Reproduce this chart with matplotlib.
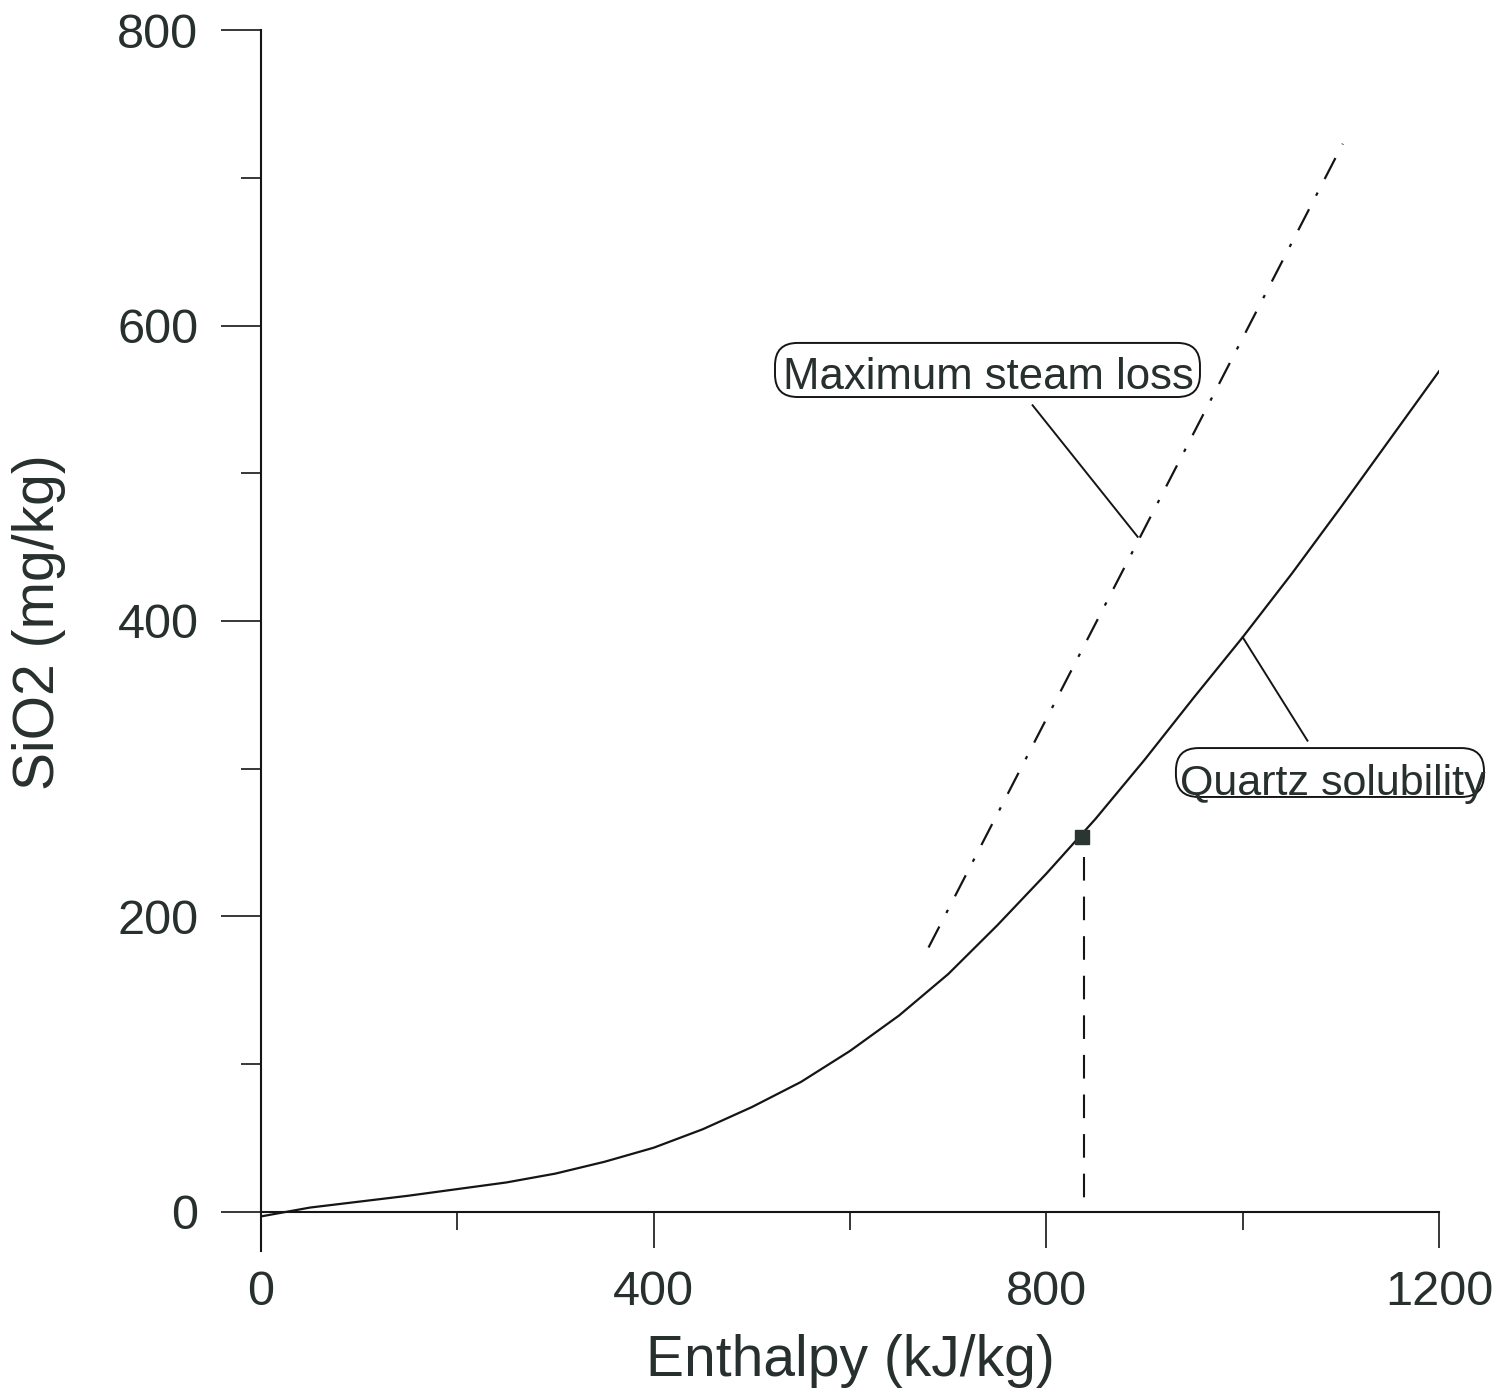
import matplotlib
matplotlib.use("Agg")
import matplotlib.pyplot as plt
from matplotlib.patches import FancyBboxPatch
from matplotlib.ticker import MultipleLocator

plt.rcParams["font.family"] = ["Liberation Sans", "DejaVu Sans"]
plt.rcParams["lines.scale_dashes"] = False

TEXT = "#27302e"
INK = "#151515"

# quartz solubility curve
quartz_h = [0, 50, 100, 150, 200, 250, 300, 350, 400, 450, 500, 550, 600,
            650, 700, 750, 800, 850, 900, 950, 1000, 1050, 1100, 1150, 1200]
quartz_si = [-3, 3, 7, 11, 15.5, 20, 26, 34, 43.5, 56, 71, 88, 109,
             133, 161, 194, 229, 266, 306, 348, 389, 432, 477, 523, 569]

# maximum steam loss line
steam_h = [680, 1102]
steam_si = [179, 723]

# reservoir point and drop line
point_h = 836
point_si = 254
drop_h = [838, 838]
drop_si = [240, 0]

x_major = [0, 400, 800, 1200]
y_major = [0, 200, 400, 600, 800]

fig = plt.figure(figsize=(15.05, 13.91), dpi=100)
ax = fig.add_axes([0.17342, 0.10065, 0.78273, 0.87778])

ax.plot(quartz_h, quartz_si, color=INK, lw=1.6, solid_joinstyle="round")
steam, = ax.plot(steam_h, steam_si, color=INK, lw=1.6)
steam.set_dashes([17, 11, 2.5, 11])
drop, = ax.plot(drop_h, drop_si, color=INK, lw=1.5)
drop.set_dashes([17, 11.5])
ax.plot([point_h], [point_si], marker="s", ms=10, color="#2b3532", ls="none")

# leader lines to the labels
ax.plot([786, 893], [546, 457], color=INK, lw=1.4)
ax.plot([1066, 1000], [319, 389], color=INK, lw=1.4)

# rounded label boxes (aspect corrects data units to square pixels)
asp = 0.6644
for (x0, y0, w, h) in [(523.6, 551.6, 432.9, 36.6), (932.0, 280.9, 313.8, 33.1)]:
    ax.add_patch(FancyBboxPatch((x0, y0), w, h,
                                boxstyle="round,pad=0,rounding_size=23",
                                mutation_aspect=asp, fc="none", ec=INK, lw=1.4,
                                clip_on=False))
ax.text(531.7, 557, "Maximum steam loss", fontsize=31.5, color=TEXT,
        ha="left", va="baseline")
ax.text(936, 282.2, "Quartz solubility", fontsize=31, color=TEXT,
        ha="left", va="baseline")

ax.set_xlim(0, 1200)
ax.set_ylim(-26.4, 800)
ax.spines["top"].set_visible(False)
ax.spines["right"].set_visible(False)
ax.spines["bottom"].set_position(("data", 0))
for s in ("left", "bottom"):
    ax.spines[s].set_linewidth(1.5)
    ax.spines[s].set_color(INK)

ax.set_xticks(x_major)
ax.set_yticks(y_major)
ax.xaxis.set_minor_locator(MultipleLocator(200))
ax.yaxis.set_minor_locator(MultipleLocator(100))
ax.tick_params(axis="x", which="major", direction="out", length=26, width=1.2,
               pad=16, labelsize=35, labelcolor=TEXT, color=INK)
ax.tick_params(axis="x", which="minor", direction="out", length=13, width=1.2,
               color=INK)
ax.tick_params(axis="y", which="major", direction="out", length=29, width=1.2,
               pad=16, labelsize=35, labelcolor=TEXT, color=INK)
ax.tick_params(axis="y", which="minor", direction="out", length=14.5, width=1.2,
               color=INK)

ax.set_xlabel("Enthalpy (kJ/kg)", fontsize=41, color=TEXT)
ax.xaxis.set_label_coords(0.5, -0.068)
ax.set_ylabel("SiO2 (mg/kg)", fontsize=41, color=TEXT)
ax.yaxis.set_label_coords(-0.1655, 0.5152)

fig.savefig("out.png", dpi=100)
